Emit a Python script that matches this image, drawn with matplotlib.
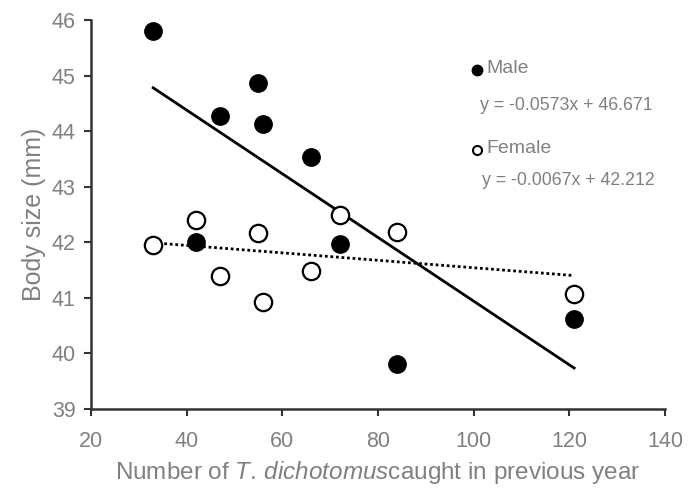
import numpy as np
import matplotlib.pyplot as plt

plt.rcParams['font.family'] = ['Liberation Sans', 'DejaVu Sans']
plt.rcParams['mathtext.fontset'] = 'custom'
plt.rcParams['mathtext.rm'] = 'Liberation Sans'
plt.rcParams['mathtext.it'] = 'Liberation Sans:italic'

# catches in previous year
x_vals = [33, 42, 47, 55, 56, 66, 72, 84, 121]
male = [45.8, 42.0, 44.27, 44.87, 44.13, 43.54, 41.97, 39.81, 40.62]
female = [41.95, 42.4, 41.4, 42.17, 40.93, 41.49, 42.49, 42.19, 41.07]

male_fit = (-0.0573, 46.671)
female_fit = (-0.0067, 42.212)

grey = '#808080'

fig = plt.figure(figsize=(6.92, 4.95), dpi=100)
ax = fig.add_axes([0.1315, 0.1737, 0.8295, 0.7859])

ax.plot(x_vals, male, 'o', color='black', markersize=12.5, zorder=3)
ax.plot(x_vals, female, 'o', markerfacecolor='white', markeredgecolor='black',
        markeredgewidth=1.6, markersize=12.5, zorder=3)

xf = np.array([min(x_vals), max(x_vals)])
ax.plot(xf, male_fit[0] * xf + male_fit[1], color='black', lw=2)
ax.plot(xf, female_fit[0] * xf + female_fit[1], color='black', lw=2, linestyle=(0, (1, 1)))

ax.set_xlim(20, 140)
ax.set_ylim(39, 46)
ax.set_xticks(range(20, 141, 20))
ax.set_yticks(range(39, 47))

for side in ['top', 'right']:
    ax.spines[side].set_visible(False)
for side in ['left', 'bottom']:
    ax.spines[side].set_linewidth(1.8)
    ax.spines[side].set_color('#333333')
ax.tick_params(direction='out', length=5, width=1.5, color='#333333',
               labelsize=15.5, labelcolor=grey)
ax.tick_params(axis='x', pad=11)
ax.tick_params(axis='y', pad=6)

ax.set_xlabel(r'Number of $\mathit{T.\,dichotomus}$caught in previous year',
              fontsize=17.5, color=grey, labelpad=5)
ax.set_ylabel('Body size (mm)', fontsize=18, color=grey, labelpad=4)

# legend-like annotations
ax.plot([100.6], [45.1], 'o', color='black', markersize=7.5, clip_on=False)
ax.text(102.6, 45.12, 'Male', fontsize=14, color=grey, va='center')
ax.text(101.4, 44.47, 'y = -0.0573x + 46.671', fontsize=12.8, color=grey, va='center')
ax.plot([100.7], [43.66], 'o', markerfacecolor='white', markeredgecolor='black',
        markeredgewidth=1.5, markersize=6.5, clip_on=False)
ax.text(102.6, 43.68, 'Female', fontsize=14, color=grey, va='center')
ax.text(101.7, 43.12, 'y = -0.0067x + 42.212', fontsize=12.8, color=grey, va='center')

fig.savefig('out.png', dpi=100)
